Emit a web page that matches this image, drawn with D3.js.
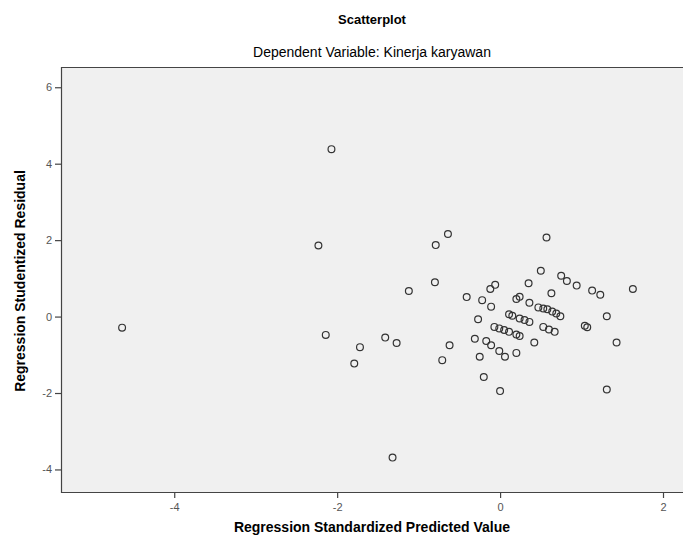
<!DOCTYPE html>
<html>
<head>
<meta charset="utf-8">
<script src="https://cdn.jsdelivr.net/npm/d3@7"></script>
<style>
  body { margin: 0; background: #fff; }
  text { font-family: "Liberation Sans", Arial, sans-serif; }
</style>
</head>
<body>
<script>
// predicted value (x) and studentized residual (y)
var predicted = [
  -4.64, -2.07, -2.23, -2.14, -1.72, -1.79, -1.41, -1.27, -1.32, -1.12,
  -0.80, -0.79, -0.64, -0.62, -0.71, -0.41, 0.57, 0.50, 0.75, 0.82,
  0.94, 1.13, 1.23, 1.63, 0.35, -0.06, -0.12, 0.63, -0.22, -0.11,
  0.20, 0.24, 0.36, 0.47, 0.53, 0.58, 0.64, 0.69, 0.74, -0.27,
  0.11, 0.15, 0.24, 0.30, 0.36, 1.31, -0.07, -0.01, 0.05, 0.11,
  0.20, 0.24, 0.53, 0.60, 0.67, 1.04, 1.07, -0.31, -0.17, -0.11,
  -0.01, 0.06, 0.20, 0.42, 1.43, -0.25, -0.20, 0.00, 1.31
];
var residual = [
  -0.29, 4.38, 1.86, -0.48, -0.80, -1.23, -0.55, -0.69, -3.69, 0.67,
  0.90, 1.87, 2.16, -0.75, -1.14, 0.51, 2.07, 1.20, 1.07, 0.93,
  0.81, 0.68, 0.57, 0.72, 0.87, 0.83, 0.72, 0.61, 0.43, 0.26,
  0.46, 0.52, 0.36, 0.24, 0.21, 0.19, 0.13, 0.08, 0.01, -0.07,
  0.06, 0.02, -0.05, -0.09, -0.14, 0.01, -0.27, -0.31, -0.35, -0.40,
  -0.47, -0.51, -0.27, -0.34, -0.40, -0.24, -0.28, -0.58, -0.64, -0.75,
  -0.90, -1.05, -0.95, -0.68, -0.68, -1.05, -1.58, -1.95, -1.91
];
var xTicks = [-4, -2, 0, 2];
var yTicks = [-4, -2, 0, 2, 4, 6];

var title = "Scatterplot";
var subtitle = "Dependent Variable: Kinerja karyawan";
var xTitle = "Regression Standardized Predicted Value";
var yTitle = "Regression Studentized Residual";

var W = 683, H = 544;
var margin = {top: 67, right: -2, bottom: 52, left: 61};
var width = W - margin.left - margin.right,
    height = H - margin.top - margin.bottom;

var svg = d3.select("body").append("svg").attr("width", W).attr("height", H);
var g = svg.append("g").attr("transform", "translate(" + margin.left + "," + margin.top + ")");

var x = d3.scaleLinear().domain([-5.39, 2.27]).range([0, width]);
var y = d3.scaleLinear().domain([-4.59, 6.53]).range([height, 0]);

g.append("rect").attr("width", width).attr("height", height).attr("fill", "#f0f0f0");

// frame (no right edge visible)
g.append("path")
  .attr("d", "M" + (width + 2) + ",0.5H0.5V" + (height + 0.5) + "H" + (width + 2))
  .attr("fill", "none").attr("stroke", "#444").attr("stroke-width", 1.2);

// plain hyphen for negatives, like the original
var fmt = function(d) { return String(d); };

var xAxis = g.append("g").attr("transform", "translate(0," + height + ")")
  .call(d3.axisBottom(x).tickValues(xTicks).tickSize(6).tickSizeOuter(0).tickFormat(fmt));
var yAxis = g.append("g")
  .call(d3.axisLeft(y).tickValues(yTicks).tickSize(6).tickSizeOuter(0).tickFormat(fmt));

[xAxis, yAxis].forEach(function(a) {
  a.select(".domain").remove();
  a.selectAll(".tick line").attr("stroke", "#444").attr("stroke-width", 1.2);
  a.selectAll(".tick text").attr("fill", "#555").style("font-size", "11px")
    .style("font-family", "'Liberation Sans', Arial, sans-serif");
});
xAxis.selectAll(".tick text").attr("dy", "0.9em");

g.selectAll("circle.pt")
  .data(predicted.map(function(v, i) { return [v, residual[i]]; }))
  .enter().append("circle")
  .attr("class", "pt")
  .attr("cx", function(d) { return x(d[0]); })
  .attr("cy", function(d) { return y(d[1]); })
  .attr("r", 3.4)
  .attr("fill", "none")
  .attr("stroke", "#333")
  .attr("stroke-width", 1.2);

svg.append("text").attr("x", 372).attr("y", 24).attr("text-anchor", "middle")
  .style("font-size", "13px").style("font-weight", "bold").text(title);
svg.append("text").attr("x", 372).attr("y", 57).attr("text-anchor", "middle")
  .style("font-size", "14px").text(subtitle);
svg.append("text").attr("x", 372).attr("y", 532).attr("text-anchor", "middle")
  .style("font-size", "14px").style("font-weight", "bold").text(xTitle);
svg.append("text").attr("transform", "translate(25,281) rotate(-90)").attr("text-anchor", "middle")
  .style("font-size", "14px").style("font-weight", "bold").text(yTitle);
</script>
</body>
</html>
